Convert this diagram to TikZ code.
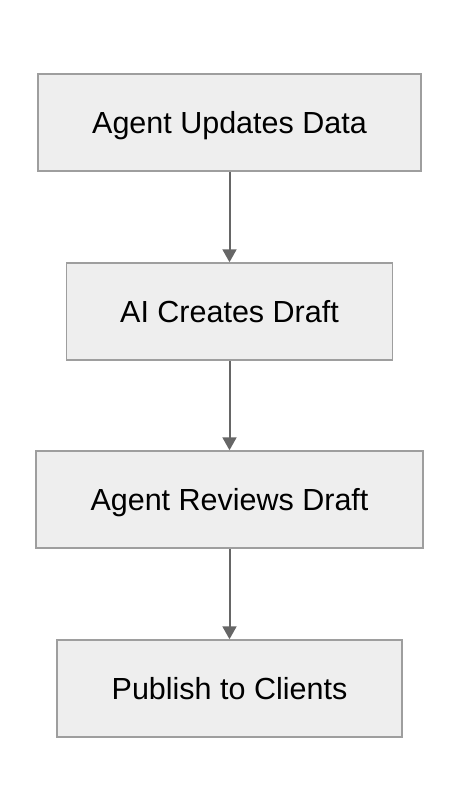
\documentclass[tikz,border=0pt]{standalone}
\usepackage{fontspec}
\setmainfont{Liberation Sans}
\usetikzlibrary{arrows.meta,positioning}

\definecolor{boxfill}{HTML}{EEEEEE}
\definecolor{boxline}{HTML}{9E9E9E}
\definecolor{flowline}{HTML}{666666}

\begin{document}
\begin{tikzpicture}[x=1pt, y=1pt, node distance=189pt, >={Triangle[length=13pt,width=14pt]}]

\tikzset{
    stepbox/.style={
        draw=boxline,
        line width=1.5pt,
        fill=boxfill,
        rectangle,
        minimum height=97pt,
        text height=22pt,
        text depth=0pt,
        font=\fontsize{30.5}{36}\selectfont
    },
    flow/.style={
        ->,
        draw=flowline,
        fill=flowline,
        line width=2pt
    }
}

\useasboundingbox (0,0) rectangle (460,-812);

\node[stepbox, minimum width=383pt] (update) at (229.5,-122.5) {Agent Updates Data};
\node[stepbox, minimum width=326pt, below of = update] (draft) {AI Creates Draft};
\node[stepbox, minimum width=387pt, below of = draft, yshift=1pt] (review) {Agent Reviews Draft};
\node[stepbox, minimum width=345pt, below of = review] (publish) {Publish to Clients};

\draw [flow] (update.south) -- (draft.north);
\draw [flow] (draft.south) -- (review.north);
\draw [flow] (review.south) -- (publish.north);
    %
\end{tikzpicture}
\end{document}
